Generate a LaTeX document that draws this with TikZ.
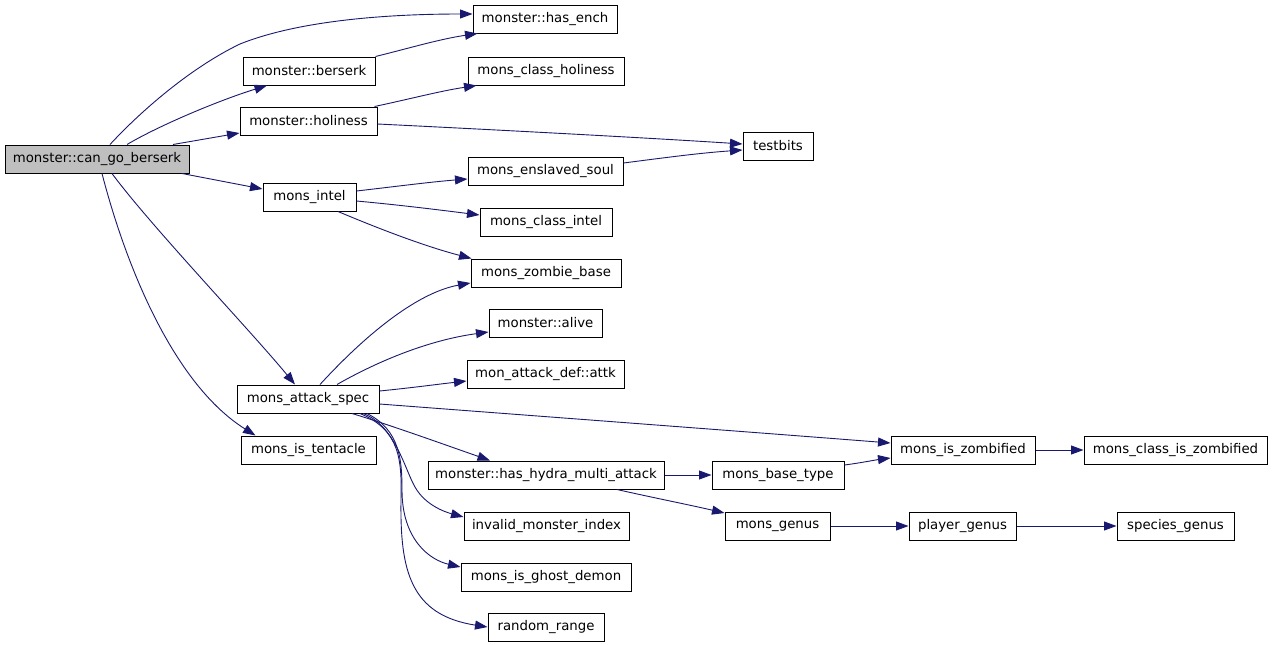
\documentclass[tikz,border=0pt]{standalone}
\usepackage{fontspec}
\setmainfont{DejaVu Sans}
\usetikzlibrary{arrows.meta}
\definecolor{edgec}{HTML}{191970}
\definecolor{rootfill}{HTML}{BFBFBF}
\tikzset{
  box/.style={draw=black, line width=1pt, fill=white, inner sep=0pt, minimum height=28pt,
    font=\fontsize{13.3}{16}\selectfont, text=black, align=center},
  rootbox/.style={box, fill=rootfill},
  edge/.style={draw=edgec, line width=0.9pt, -{Triangle[length=12.5pt,width=9pt]}},
}
\begin{document}
\begin{tikzpicture}[x=1pt, y=-1pt]
\useasboundingbox (0,0) rectangle (1272,645);
\fill[white] (0,0) rectangle (1272,645);
% nodes
\node[rootbox, minimum width=184pt] (cgb) at (97,159) {monster::can\_go\_berserk};
\node[box, minimum width=144pt] (hasench) at (545,19) {monster::has\_ench};
\node[box, minimum width=132pt] (berserk) at (309,71) {monster::berserk};
\node[box, minimum width=137pt] (holiness) at (308.5,121) {monster::holiness};
\node[box, minimum width=156pt] (mch) at (546,71) {mons\_class\_holiness};
\node[box, minimum width=70pt] (testbits) at (778,146) {testbits};
\node[box, minimum width=93pt] (intel) at (309.5,197) {mons\_intel};
\node[box, minimum width=155pt] (enslaved) at (545.5,171) {mons\_enslaved\_soul};
\node[box, minimum width=132pt] (classintel) at (546,222) {mons\_class\_intel};
\node[box, minimum width=150pt] (zombiebase) at (546,273) {mons\_zombie\_base};
\node[box, minimum width=113pt] (alive) at (545.5,323) {monster::alive};
\node[box, minimum width=157pt] (attk) at (545.5,374) {mon\_attack\_def::attk};
\node[box, minimum width=142pt] (attackspec) at (308,399) {mons\_attack\_spec};
\node[box, minimum width=135pt] (tentacle) at (308.5,450) {mons\_is\_tentacle};
\node[box, minimum width=236pt] (hydra) at (546,475) {monster::has\_hydra\_multi\_attack};
\node[box, minimum width=165pt] (invalid) at (546.5,526.5) {invalid\_monster\_index};
\node[box, minimum width=170pt] (ghost) at (546,577) {mons\_is\_ghost\_demon};
\node[box, minimum width=116pt] (random) at (546,627) {random\_range};
\node[box, minimum width=144pt] (zombified) at (963,450) {mons\_is\_zombified};
\node[box, minimum width=183pt] (classzomb) at (1175.5,450) {mons\_class\_is\_zombified};
\node[box, minimum width=132pt] (basetype) at (778,475) {mons\_base\_type};
\node[box, minimum width=105pt] (genus) at (777.5,526) {mons\_genus};
\node[box, minimum width=107pt] (player) at (962.5,526) {player\_genus};
\node[box, minimum width=117pt] (species) at (1175.5,526) {species\_genus};
% edges from root
\draw[edge] ([xshift=13pt]cgb.north) .. controls (140,112) and (190,68) .. (240,44)
   .. controls (300,20) and (390,14) .. ([yshift=5pt]hasench.west);
\draw[edge] ([xshift=30pt]cgb.north) .. controls (160,125) and (220,100) .. ([xshift=-42pt]berserk.south);
\draw[edge] ([xshift=76pt]cgb.north) -- ([yshift=-12pt]holiness.west);
\draw[edge] ([xshift=85pt]cgb.south) -- ([yshift=8pt]intel.west);
\draw[edge] ([xshift=15pt]cgb.south) .. controls (150,225) and (250,330) .. ([xshift=-13pt]attackspec.north);
\draw[edge] ([xshift=5pt]cgb.south) .. controls (127,270) and (175,385) .. ([xshift=-53pt]tentacle.north);
% berserk / holiness
\draw[edge] (berserk.north east) .. controls (410,48) and (440,39) .. ([xshift=5pt]hasench.south west);
\draw[edge] ([xshift=-3pt]holiness.north east) .. controls (410,99) and (440,91) .. ([xshift=9pt]mch.south west);
\draw[edge] ([yshift=-3pt]holiness.east) .. controls (500,130) and (650,138) .. ([yshift=2pt]testbits.west);
\draw[edge] ([yshift=8pt]enslaved.east) .. controls (670,157) and (700,153) .. ([yshift=-4pt]testbits.west);
% intel
\draw[edge] ([yshift=6pt]intel.east) .. controls (400,186) and (430,182) .. ([yshift=-8pt]enslaved.west);
\draw[edge] ([yshift=-4pt]intel.east) .. controls (400,205) and (440,210) .. ([yshift=7pt]classintel.west);
\draw[edge] ([xshift=28.5pt]intel.south) .. controls (370,225) and (420,245) .. ([xshift=1pt]zombiebase.north west);
% attack spec
\draw[edge] ([xshift=12pt]attackspec.north) .. controls (370,330) and (420,292) .. ([yshift=-10pt]zombiebase.west);
\draw[edge] ([xshift=29pt]attackspec.north) .. controls (380,360) and (430,340) .. ([yshift=-9pt]alive.west);
\draw[edge] ([yshift=8pt]attackspec.east) .. controls (410,388) and (440,384) .. ([yshift=-7pt]attk.west);
\draw[edge] ([yshift=-5pt]attackspec.east) .. controls (550,417) and (750,432) .. ([yshift=7pt]zombified.west);
\draw[edge] ([xshift=44pt]attackspec.south) .. controls (390,425) and (440,443) .. ([xshift=-56pt]hydra.north);
\draw[edge] ([xshift=55pt]attackspec.south) .. controls (395,425) and (405,470) .. (415,487)
   .. controls (425,505) and (445,512) .. ([yshift=9.5pt]invalid.west);
\draw[edge] ([xshift=59pt]attackspec.south) .. controls (400,430) and (402,460) .. (402,490)
   .. controls (402,540) and (430,560) .. ([yshift=10pt]ghost.west);
\draw[edge] ([xshift=52pt]attackspec.south) .. controls (400,430) and (402,460) .. (401,500)
   .. controls (400,570) and (410,615) .. (random.west);
% hydra and below
\draw[edge] (hydra.east) -- (basetype.west);
\draw[edge] ([xshift=71pt]hydra.south) .. controls (650,497) and (690,505) .. ([yshift=13pt]genus.west);
\draw[edge] ([yshift=10pt]basetype.east) .. controls (860,463) and (875,460) .. ([yshift=-8pt]zombified.west);
\draw[edge] (zombified.east) -- (classzomb.west);
\draw[edge] (genus.east) -- (player.west);
\draw[edge] (player.east) -- (species.west);
\end{tikzpicture}
\end{document}
